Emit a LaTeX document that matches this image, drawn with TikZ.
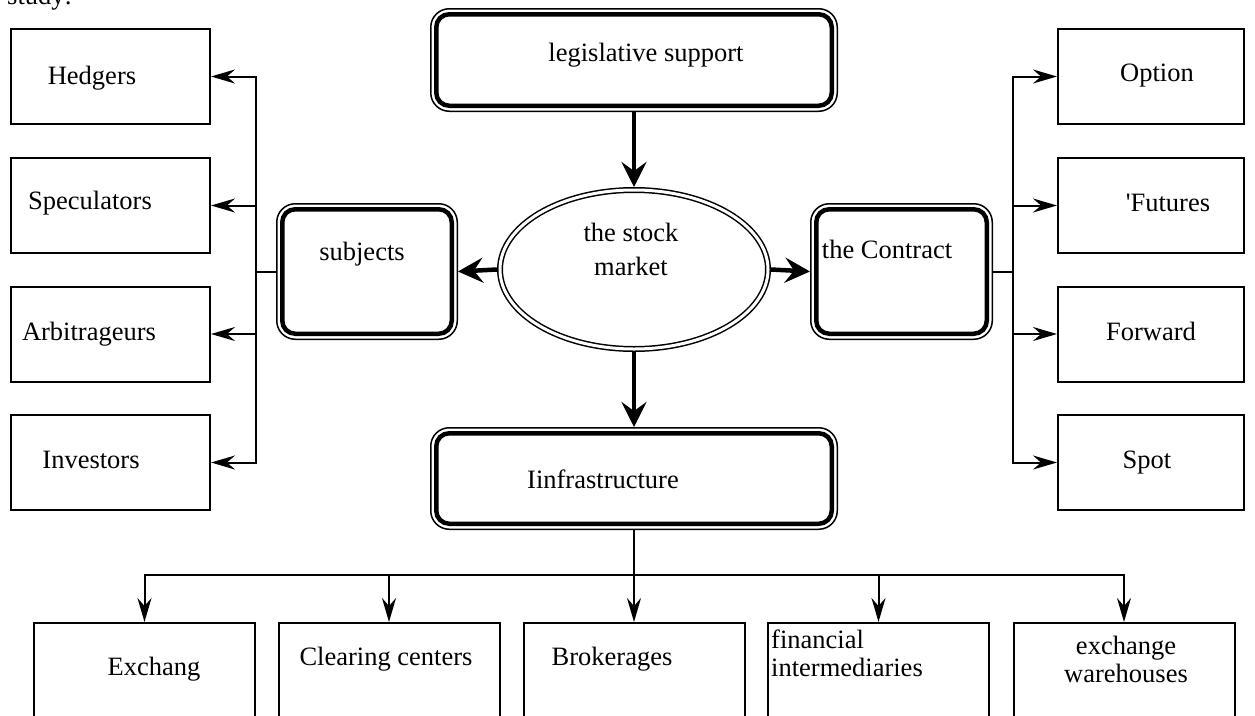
\documentclass[tikz,border=0pt]{standalone}
\usepackage{fontspec}
\setmainfont{Liberation Serif}
\usetikzlibrary{arrows.meta,shapes.geometric}
\tikzset{
  every node/.style={font=\fontsize{26.5}{31}\selectfont},
  sbox/.style={draw, line width=2pt, inner sep=0pt, minimum width=199pt, minimum height=95pt},
  bbox/.style={draw, line width=2pt, inner sep=0pt, minimum width=221pt, minimum height=138pt},
  dbox/.style={draw, line width=4.5pt, rounded corners=13pt, inner sep=0pt, outer sep=6.25pt},
  oval/.style={ellipse, draw, double, line width=1.5pt, double distance=3pt, inner sep=0pt, outer sep=3pt, minimum width=268pt, minimum height=159pt},
  txt/.style={inner sep=0pt, text height=17pt, text depth=0pt, align=center},
  link/.style={line width=2pt},
  arr/.style={line width=2pt, -{Stealth[length=24pt,width=14pt,inset=8pt]}},
  bigarr/.style={line width=4.5pt, -{Stealth[length=25pt,width=25pt,inset=9pt]}},
  rim/.style={line width=1.5pt, rounded corners=18.5pt},
}
\newcommand\rimof[1]{\draw[rim] ([shift={(0.75pt,-0.75pt)}]#1.north west) rectangle ([shift={(-0.75pt,0.75pt)}]#1.south east);}
\begin{document}
\begin{tikzpicture}[x=1pt,y=-1pt]
\useasboundingbox (0,0) rectangle (1255,715);
\clip (0,0) rectangle (1255,715);
% top-left cut text
\node[anchor=base west, inner sep=0pt] (study) at (7,4) {study:};
% central nodes
\node[dbox, minimum width=395.5pt, minimum height=91.5pt] (legis) at (634,60) {};
\node[dbox, minimum width=169.5pt, minimum height=124.5pt] (subj) at (367,271.5) {};
\node[dbox, minimum width=170.5pt, minimum height=124.5pt] (contr) at (901.5,271.5) {};
\node[dbox, minimum width=395.5pt, minimum height=90.5pt] (infra) at (634,478.5) {};
\rimof{legis}\rimof{subj}\rimof{contr}\rimof{infra}
\node[oval] (market) at (634,269.5) {};
\node[txt] (legist) at (646,53) {legislative support};
\node[txt, font=\fontsize{26.5}{34}\selectfont] (markett) at (631,267) {the stock\\market};
\node[txt] (subjt) at (362,252) {subjects};
\node[txt] (contrt) at (887,250) {the Contract};
\node[txt] (infrat) at (603,480) {Iinfrastructure};
% left boxes
\node[sbox] (hedg) at (110.5,76.5) {};
\node[sbox] (spec) at (110.5,205.5) {};
\node[sbox] (arb) at (110.5,334) {};
\node[sbox] (inv) at (110.5,462.5) {};
\node[txt] at (92,76) {Hedgers};
\node[txt] at (90,201) {Speculators};
\node[txt] at (89,332) {Arbitrageurs};
\node[txt] at (91,460) {Investors};
% right boxes
\node[sbox, minimum width=186pt] (opt) at (1151,76.5) {};
\node[sbox, minimum width=186pt] (fut) at (1151,205.5) {};
\node[sbox, minimum width=186pt] (fwd) at (1151,334) {};
\node[sbox, minimum width=186pt] (spot) at (1151,462.5) {};
\node[txt] at (1157,73) {Option};
\node[txt] at (1168,203) {\textquotesingle Futures};
\node[txt] at (1151,332) {Forward};
\node[txt] at (1147,460) {Spot};
% bottom boxes
\node[bbox] (exch) at (144.5,692) {};
\node[bbox] (clear) at (389,692) {};
\node[bbox] (brok) at (634,692) {};
\node[bbox] (fin) at (878.5,692) {};
\node[bbox] (ware) at (1124,692) {};
\node[txt] at (154,667) {Exchang};
\node[txt] at (386,657) {Clearing centers};
\node[txt] at (612,657) {Brokerages};
\node[txt, anchor=west, align=left, font=\fontsize{26.5}{28}\selectfont] at (771,668) {financial\\intermediaries};
\node[txt, font=\fontsize{26.5}{28}\selectfont] at (1126,674) {exchange\\warehouses};
% bus points
\coordinate (lbus) at (256,271.5);
\coordinate (rbus) at (1013,271.5);
\coordinate (bbus) at (634,575);
% connectors
\draw[bigarr] (legis.south) -- (market.north);
\draw[bigarr] (market.south) -- (infra.north);
\draw[bigarr] (market.west) -- (subj.east);
\draw[bigarr] (market.east) -- (contr.west);
\draw[link] (subj.west) -- (lbus);
\draw[arr] (lbus) |- (hedg.east);
\draw[arr] (lbus) |- (spec.east);
\draw[arr] (lbus) |- (arb.east);
\draw[arr] (lbus) |- (inv.east);
\draw[link] (contr.east) -- (rbus);
\draw[arr] (rbus) |- (opt.west);
\draw[arr] (rbus) |- (fut.west);
\draw[arr] (rbus) |- (fwd.west);
\draw[arr] (rbus) |- (spot.west);
\draw[arr] (infra.south) -- (brok.north);
\draw[arr] (bbus) -| (exch.north);
\draw[arr] (bbus) -| (clear.north);
\draw[arr] (bbus) -| (fin.north);
\draw[arr] (bbus) -| (ware.north);
\end{tikzpicture}
\end{document}
